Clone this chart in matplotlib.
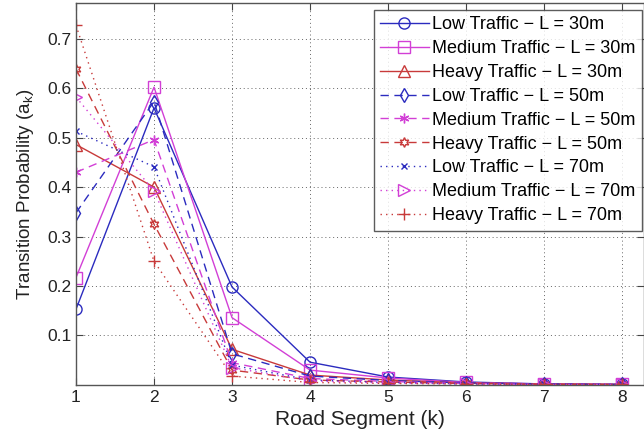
import matplotlib
matplotlib.use("Agg")
import matplotlib.pyplot as plt

plt.rcParams['font.family'] = ['Liberation Sans', 'DejaVu Sans']

k = [1, 2, 3, 4, 5, 6, 7, 8]
labels = ["Low Traffic \u2212 L = 30m", "Medium Traffic \u2212 L = 30m", "Heavy Traffic \u2212 L = 30m",
          "Low Traffic \u2212 L = 50m", "Medium Traffic \u2212 L = 50m", "Heavy Traffic \u2212 L = 50m",
          "Low Traffic \u2212 L = 70m", "Medium Traffic \u2212 L = 70m", "Heavy Traffic \u2212 L = 70m"]
low_30 = [0.153, 0.560, 0.198, 0.046, 0.016, 0.006, 0.002, 0.001]
med_30 = [0.217, 0.602, 0.136, 0.030, 0.014, 0.005, 0.002, 0.001]
heavy_30 = [0.486, 0.400, 0.072, 0.020, 0.010, 0.004, 0.002, 0.001]
low_50 = [0.348, 0.573, 0.063, 0.018, 0.009, 0.004, 0.002, 0.001]
med_50 = [0.430, 0.496, 0.045, 0.013, 0.007, 0.003, 0.001, 0.001]
heavy_50 = [0.639, 0.325, 0.030, 0.010, 0.006, 0.003, 0.001, 0.001]
low_70 = [0.513, 0.441, 0.040, 0.010, 0.005, 0.002, 0.001, 0.001]
med_70 = [0.582, 0.392, 0.035, 0.008, 0.004, 0.002, 0.001, 0.001]
heavy_70 = [0.727, 0.250, 0.018, 0.005, 0.003, 0.002, 0.001, 0.001]
series = [low_30, med_30, heavy_30, low_50, med_50, heavy_50, low_70, med_70, heavy_70]

blue = '#2b2bbf'
mag = '#d23fd6'
red = '#c83a3a'
colors = [blue, mag, red] * 3
styles = ['-'] * 3 + [(0, (6, 4))] * 3 + [(0, (1, 3))] * 3
markers = ['o', 's', '^', 'd', (6, 2, 0), (6, 1, 0), 'x', '>', '+']
msizes = [8, 8, 9, 7, 7, 7, 5, 8, 9]

fig = plt.figure(figsize=(6.44, 4.44), dpi=100)
ax = fig.add_axes([0.118, 0.133, 0.882, 0.860])

for y, lab, c, ls, m, ms in zip(series, labels, colors, styles, markers, msizes):
    ax.plot(k, y, color=c, linestyle=ls, linewidth=1.0, marker=m, markersize=ms,
            markerfacecolor='none', markeredgecolor=c, markeredgewidth=1.0, label=lab)

ax.set_xlim(1, 8.28)
ax.set_ylim(0, 0.772)
ax.set_xticks(k)
ax.set_yticks([0.1, 0.2, 0.3, 0.4, 0.5, 0.6, 0.7])
ax.set_yticklabels(['0.1', '0.2', '0.3', '0.4', '0.5', '0.6', '0.7'])
ax.grid(True, linestyle=(0, (1, 3)), color='#666666', linewidth=0.7)
ax.tick_params(direction='in', top=True, right=True, labelsize=12.5, length=5,
               color='#444444', labelcolor='#222222')
for s in ax.spines.values():
    s.set_color('#555555')
    s.set_linewidth(1.0)

ax.set_xlabel('Road Segment (k)', fontsize=15, color='#222222', labelpad=4)
ax.set_ylabel('Transition Probability (a$_\\mathregular{k}$)', fontsize=13.5, color='#222222', labelpad=8)

leg = ax.legend(loc='upper right', bbox_to_anchor=(0.9965, 0.982), fontsize=13,
                frameon=True, fancybox=False, edgecolor='#333333', borderaxespad=0.0,
                handlelength=2.7, handletextpad=0.2, labelspacing=0.38, borderpad=0.35)
leg.get_frame().set_linewidth(1.0)

fig.savefig('out.png', dpi=100)
